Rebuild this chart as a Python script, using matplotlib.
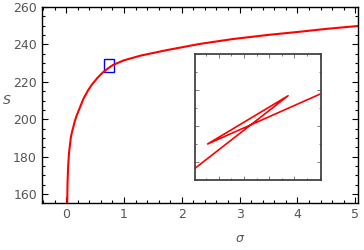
import matplotlib
matplotlib.use('Agg')
import matplotlib.pyplot as plt
from matplotlib.ticker import MultipleLocator
from matplotlib.patches import Rectangle

# curve
sigma = [0.018, 0.025, 0.035, 0.05, 0.08, 0.1, 0.126, 0.15, 0.18, 0.24, 0.3,
         0.38, 0.45, 0.55, 0.63, 0.73, 0.81, 1.0, 1.3, 1.75, 2.3, 2.89,
         3.5, 4.05, 4.5, 5.03]
S = [155, 167, 175, 182, 190, 193, 196, 199, 201.8, 206.4, 211,
     215.5, 218.7, 222.4, 224.9, 227.3, 229.0, 231.5, 234.1, 237, 240.2, 242.9,
     245.1, 246.8, 248.3, 249.8]

# zoom window (blue box) and what the inset shows
box_x = (0.65, 0.83)
box_y = (225, 232)
inset_sigma = [0.65, 0.783, 0.668, 0.828]
inset_S = [225.65, 229.68, 227.0, 229.76]

grey = '#555555'

fig = plt.figure(figsize=(3.64, 2.5), dpi=100)
ax = fig.add_axes([0.115, 0.188, 0.869, 0.784])
ax.plot(sigma, S, color='red', lw=1.5)
ax.add_patch(Rectangle((box_x[0], box_y[0]), box_x[1] - box_x[0], box_y[1] - box_y[0],
                       fill=False, edgecolor='blue', lw=1))
ax.set_xlim(-0.42, 5.05)
ax.set_ylim(155.2, 260)
ax.xaxis.set_major_locator(MultipleLocator(1))
ax.xaxis.set_minor_locator(MultipleLocator(0.2))
ax.yaxis.set_major_locator(MultipleLocator(20))
ax.yaxis.set_minor_locator(MultipleLocator(5))
ax.tick_params(which='both', direction='in', top=True, right=True, labelcolor=grey,
               labelsize=9, width=0.8)
ax.tick_params(which='major', length=4)
ax.tick_params(which='minor', length=2)
for sp in ax.spines.values():
    sp.set_linewidth(1.0)
fig.text(7 / 364, 1 - 100 / 250, 'S', color=grey, fontsize=9, style='italic',
         ha='center', va='center')
fig.text(240 / 364, 1 - 238 / 250, 'σ', color=grey, fontsize=9, style='italic',
         ha='center', va='center')

ins = fig.add_axes([195 / 364, 70 / 250, 126 / 364, 126 / 250])
ins.plot(inset_sigma, inset_S, color='red', lw=1.2)
ins.set_xlim(*box_x)
ins.set_ylim(*box_y)
ins.xaxis.set_major_locator(MultipleLocator(0.036))
ins.xaxis.set_minor_locator(MultipleLocator(0.018))
ins.yaxis.set_major_locator(MultipleLocator(2))
ins.yaxis.set_minor_locator(MultipleLocator(1))
ins.tick_params(which='both', direction='in', top=True, right=True,
                labelbottom=False, labelleft=False, color='#666666', width=0.6)
ins.tick_params(which='major', length=3)
ins.tick_params(which='minor', length=1.5)
for sp in ins.spines.values():
    sp.set_linewidth(1.3)
    sp.set_color('#444444')

fig.savefig('out.png', dpi=100)
